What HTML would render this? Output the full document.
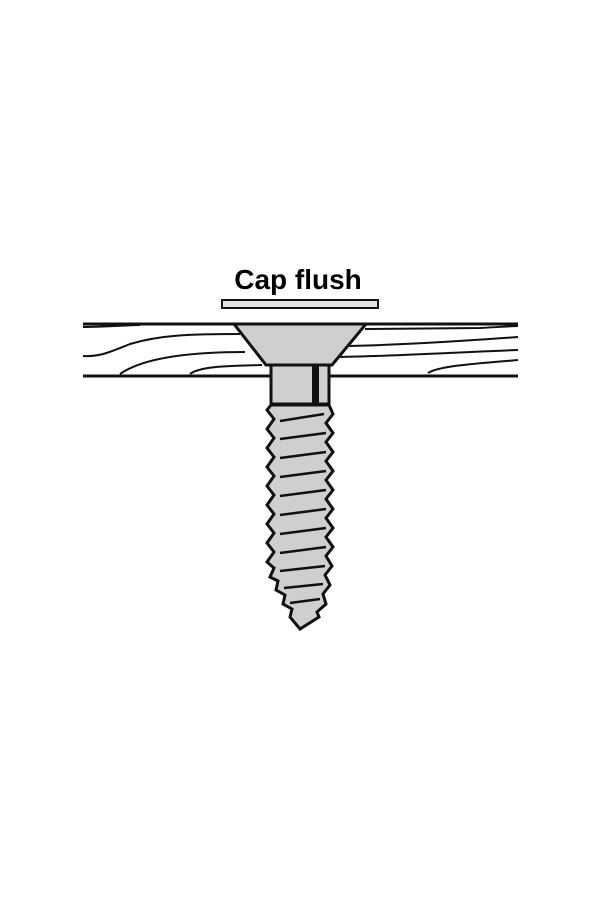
<!DOCTYPE html>
<html><head><style>body{margin:0;background:#fff}</style></head><body>
<svg width="600" height="900" viewBox="0 0 600 900" xmlns="http://www.w3.org/2000/svg">
<rect width="600" height="900" fill="#fff"/>
<text x="298" y="289" text-anchor="middle" font-family="Liberation Sans, sans-serif" font-weight="bold" font-size="28" fill="#000">Cap flush</text>
<rect x="222" y="300" width="156" height="8" fill="#e2e2e2" stroke="#111" stroke-width="2"/>
<g fill="none" stroke="#111" stroke-width="2">
<path d="M83 327 C110 327,125 325,140 325"/>
<path d="M83 356 C100 357,110 352,130 344 C160 335,190 334,240 334"/>
<path d="M120 374 C140 360,180 352,245 352"/>
<path d="M190 374 C200 366,230 366,262 365"/>
<path d="M365 329 C400 329,440 328,480 328 C500 327,510 326,518 326"/>
<path d="M345 346 C400 345,450 342,518 337"/>
<path d="M338 357 C400 356,460 352,518 350"/>
<path d="M428 373 C440 366,470 364,518 360"/>
</g>
<line x1="83" y1="324" x2="518" y2="324" stroke="#111" stroke-width="3"/>
<line x1="83" y1="376" x2="518" y2="376" stroke="#111" stroke-width="3"/>
<path d="M234 324 L366 324 L332 365 L266 365 Z" fill="#cfcfcf" stroke="#111" stroke-width="3"/>
<rect x="271" y="365" width="58" height="39" fill="#cfcfcf" stroke="#111" stroke-width="3"/>
<rect x="312" y="366" width="7" height="37" fill="#111"/>
<path d="M271 405 L329 405 L333 414 L326 423 L333 433 L326 442 L333 452 L326 461 L333 471 L326 480 L333 490 L326 499 L333 509 L326 518 L333 528 L326 537 L333 547 L326 556 L332 566 L325 575 L330 585 L323 594 L326 604 L317 612 L319 617 L300 629 L290 617 L292 609 L283 604 L285 595 L276 590 L278 581 L270 577 L274 568 L267 562 L274 552 L267 543 L274 533 L267 524 L274 514 L267 505 L274 495 L267 486 L274 476 L267 467 L274 457 L267 448 L274 438 L267 429 L274 419 L267 410 Z" fill="#cfcfcf" stroke="#111" stroke-width="3" stroke-linejoin="miter"/>
<g stroke="#111" stroke-width="2.5">
<line x1="280" y1="421" x2="324" y2="414"/>
<line x1="280" y1="439" x2="326" y2="433"/>
<line x1="280" y1="458" x2="326" y2="452"/>
<line x1="280" y1="477" x2="326" y2="471"/>
<line x1="280" y1="496" x2="326" y2="490"/>
<line x1="280" y1="515" x2="326" y2="509"/>
<line x1="280" y1="534" x2="326" y2="528"/>
<line x1="280" y1="553" x2="326" y2="547"/>
<line x1="280" y1="571" x2="325" y2="566"/>
<line x1="284" y1="588" x2="323" y2="584"/>
<line x1="290" y1="603" x2="320" y2="599"/>
</g>
</svg>
</body></html>
